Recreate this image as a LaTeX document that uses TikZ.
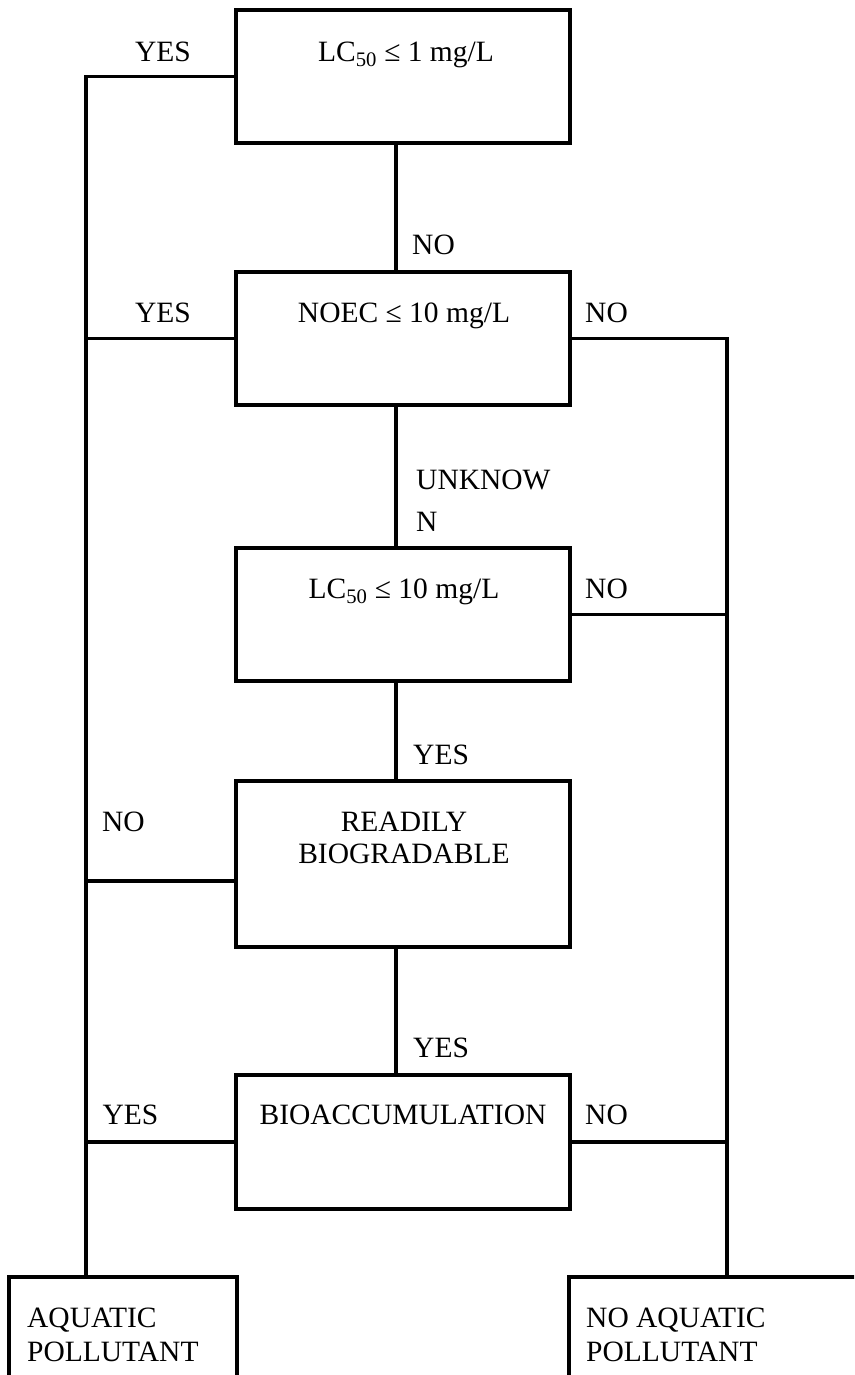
\documentclass[tikz,border=0pt]{standalone}
\usepackage{fontspec}
\setmainfont{Liberation Serif}
\begin{document}
\begin{tikzpicture}[x=1pt,y=-1pt,
  box/.style={draw=black, line width=3.5pt, rectangle, minimum width=334pt, inner sep=0pt},
  conn/.style={draw=black, line width=3.3pt},
  txt/.style={inner sep=0pt, font=\fontsize{29.5pt}{34pt}\selectfont},
]
\useasboundingbox (0,0) rectangle (854,1375);
\clip (0,0) rectangle (854,1375);
\fill[white] (0,0) rectangle (854,1375);

% boxes
\node[box, minimum height=133pt] (b1) at (403,76.5) {};
\node[box, minimum height=133pt] (b2) at (403,338.5) {};
\node[box, minimum height=133pt] (b3) at (403,614.5) {};
\node[box, minimum height=166pt] (b4) at (403,864) {};
\node[box, minimum height=134pt] (b5) at (403,1142) {};
\node[box, minimum width=228pt, minimum height=123pt] (bl) at (123,1338.5) {};
\node[box, minimum width=331pt, minimum height=123pt] (br) at (734.5,1338.5) {};

\coordinate (L) at (86,0);
\coordinate (R) at (727,0);

% vertical chain
\draw[conn] ([xshift=-7pt]b1.south) -- ([xshift=-7pt]b2.north);
\draw[conn] ([xshift=-7pt]b2.south) -- ([xshift=-7pt]b3.north);
\draw[conn] ([xshift=-7pt]b3.south) -- ([xshift=-7pt]b4.north);
\draw[conn] ([xshift=-7pt]b4.south) -- ([xshift=-7pt]b5.north);

% left side (to aquatic pollutant)
\draw[conn] (b1.west) -| (bl.north -| L);
\draw[conn] (b2.west) -- (b2.west -| L);
\draw[conn] ([yshift=-17pt]b4.west) -- ([yshift=-17pt]b4.west -| L);
\draw[conn] (b5.west) -- (b5.west -| L);

% right side (to no aquatic pollutant)
\draw[conn] (b2.east) -| (br.north -| R);
\draw[conn] (b3.east) -- (b3.east -| R);
\draw[conn] (b5.east) -- (b5.east -| R);

% box texts
\node[txt, anchor=base] (t1) at (406,61.8) {LC\textsubscript{50} ≤ 1 mg/L};
\node[txt, anchor=base] (t2) at (404,322.8) {NOEC ≤ 10 mg/L};
\node[txt, anchor=base] (t3) at (404,598.8) {LC\textsubscript{50} ≤ 10 mg/L};
\node[txt, anchor=base] (t4a) at (404,831.8) {READILY};
\node[txt, anchor=base] (t4b) at (404,863.8) {BIOGRADABLE};
\node[txt, anchor=base] (t5) at (403,1124.8) {BIOACCUMULATION};
\node[txt, anchor=base west] (tla) at (27,1327.8) {AQUATIC};
\node[txt, anchor=base west] (tlb) at (27,1361.8) {POLLUTANT};
\node[txt, anchor=base west] (tra) at (586,1327.8) {NO AQUATIC};
\node[txt, anchor=base west] (trb) at (586,1361.8) {POLLUTANT};

% connector labels
\node[txt, anchor=base] (y1) at (163,61.8) {YES};
\node[txt, anchor=base west] (n12) at (412,254.8) {NO};
\node[txt, anchor=base] (y2) at (163,322.8) {YES};
\node[txt, anchor=base west] (n2) at (585,322.8) {NO};
\node[txt, anchor=base west] (u1) at (416,489.8) {UNKNOW};
\node[txt, anchor=base west] (u2) at (416,531.8) {N};
\node[txt, anchor=base west] (n3) at (585,598.8) {NO};
\node[txt, anchor=base west] (y34) at (413,764.8) {YES};
\node[txt, anchor=base] (n4) at (123.5,831.8) {NO};
\node[txt, anchor=base west] (y45) at (413,1057.8) {YES};
\node[txt, anchor=base] (y5) at (130.5,1124.8) {YES};
\node[txt, anchor=base west] (n5) at (585,1124.8) {NO};
\end{tikzpicture}
\end{document}
